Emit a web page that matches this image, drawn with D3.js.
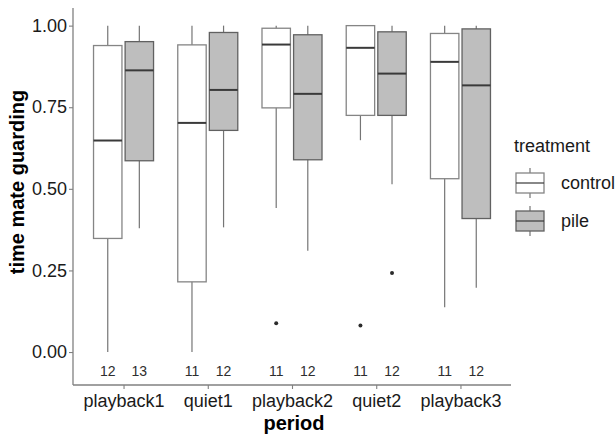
<!DOCTYPE html>
<html lang="en">

<head>
    <meta charset="UTF-8">
    <title>time mate guarding by period</title>
    <script src="https://cdn.jsdelivr.net/npm/d3@7"></script>
    <style>
        body {
            margin: 0;
            background: #fff;
        }

        svg text {
            font-family: "Liberation Sans", Arial, sans-serif;
        }
    </style>
</head>

<body>
    <svg id="main" width="615" height="435"></svg>

    <script>
        // values
        let periods = ["playback1", "quiet1", "playback2", "quiet2", "playback3"];
        let treatments = ["control", "pile"];

        let controlLow = [0.000, 0.000, 0.441, 0.649, 0.137];
        let controlQ1 = [0.348, 0.215, 0.748, 0.725, 0.531];
        let controlMed = [0.648, 0.702, 0.942, 0.932, 0.889];
        let controlQ3 = [0.939, 0.941, 0.992, 1.000, 0.976];
        let controlHigh = [1.000, 1.000, 1.000, 1.000, 1.000];
        let controlN = [12, 11, 11, 11, 11];

        let pileLow = [0.379, 0.382, 0.310, 0.514, 0.197];
        let pileQ1 = [0.586, 0.679, 0.589, 0.725, 0.409];
        let pileMed = [0.863, 0.803, 0.791, 0.853, 0.817];
        let pileQ3 = [0.951, 0.979, 0.972, 0.981, 0.990];
        let pileHigh = [1.000, 1.000, 1.000, 1.000, 1.000];
        let pileN = [13, 12, 12, 12, 12];

        let outlierPeriod = ["playback2", "quiet2", "quiet2"];
        let outlierTreatment = ["control", "control", "pile"];
        let outlierValue = [0.088, 0.081, 0.242];

        let yTicks = [0, 0.25, 0.5, 0.75, 1];

        let fills = { control: "#ffffff", pile: "#bebebe" };
        let strokes = { control: "#858585", pile: "#616161" };

        // build rows
        let boxes = [];
        periods.forEach(function (p, i) {
            boxes.push({ period: p, treatment: "control", low: controlLow[i], q1: controlQ1[i], med: controlMed[i], q3: controlQ3[i], high: controlHigh[i], n: controlN[i] });
            boxes.push({ period: p, treatment: "pile", low: pileLow[i], q1: pileQ1[i], med: pileMed[i], q3: pileQ3[i], high: pileHigh[i], n: pileN[i] });
        });
        let outliers = d3.map(outlierValue, function (v, i) {
            return { period: outlierPeriod[i], treatment: outlierTreatment[i], value: v };
        });

        let svg = d3.select("#main");
        let panelLeft = 73, panelRight = 511, panelTop = 8, panelBottom = 385;

        let x = d3.scalePoint().domain(periods).range([panelLeft, panelRight]).padding(0.6);
        let step = x.step();
        let dodge = d3.scaleBand().domain(treatments).range([-0.375 * step, 0.375 * step]);
        let boxW = dodge.bandwidth() * 0.9;
        let y = d3.scaleLinear().domain([-0.101, 1.054]).range([panelBottom, panelTop]);

        function cx(d) {
            return x(d.period) + dodge(d.treatment) + dodge.bandwidth() / 2;
        }

        // whiskers
        let g = svg.append("g");
        g.selectAll("line.whisker")
            .data(boxes)
            .join("line")
            .attr("class", "whisker")
            .attr("x1", cx).attr("x2", cx)
            .attr("y1", d => y(d.low)).attr("y2", d => y(d.high))
            .attr("stroke", "#757575")
            .attr("stroke-width", 1.2);

        // boxes
        g.selectAll("rect.box")
            .data(boxes)
            .join("rect")
            .attr("class", "box")
            .attr("x", d => cx(d) - boxW / 2)
            .attr("width", boxW)
            .attr("y", d => y(d.q3))
            .attr("height", d => y(d.q1) - y(d.q3))
            .attr("fill", d => fills[d.treatment])
            .attr("stroke", d => strokes[d.treatment])
            .attr("stroke-width", 1.3);

        // medians
        g.selectAll("line.median")
            .data(boxes)
            .join("line")
            .attr("class", "median")
            .attr("x1", d => cx(d) - boxW / 2).attr("x2", d => cx(d) + boxW / 2)
            .attr("y1", d => y(d.med)).attr("y2", d => y(d.med))
            .attr("stroke", "#3a3a3a")
            .attr("stroke-width", 2);

        // outliers
        g.selectAll("circle")
            .data(outliers)
            .join("circle")
            .attr("cx", cx)
            .attr("cy", d => y(d.value))
            .attr("r", 2)
            .attr("fill", "#2b2b2b");

        // counts under each box
        g.selectAll("text.count")
            .data(boxes)
            .join("text")
            .attr("class", "count")
            .attr("x", cx)
            .attr("y", y(-0.057))
            .attr("dy", "0.35em")
            .attr("text-anchor", "middle")
            .attr("font-size", 14)
            .attr("fill", "#2e2e2e")
            .text(d => d.n);

        // axes
        let yAxis = svg.append("g")
            .attr("transform", `translate(${panelLeft},0)`)
            .call(d3.axisLeft(y).tickValues(yTicks).tickFormat(d3.format(".2f")).tickSize(4).tickPadding(2));
        let xAxis = svg.append("g")
            .attr("transform", `translate(0,${panelBottom})`)
            .call(d3.axisBottom(x).tickSize(4).tickPadding(5));

        [yAxis, xAxis].forEach(function (a) {
            a.select(".domain").attr("stroke", "#808080").attr("stroke-width", 1.3);
            a.selectAll(".tick line").attr("stroke", "#808080").attr("stroke-width", 1.1);
            a.selectAll(".tick text").attr("font-size", 18).attr("fill", "#1a1a1a")
                .attr("font-family", "Liberation Sans, Arial, sans-serif");
        });
        // ggplot style axis lines, no outer ticks
        yAxis.select(".domain").attr("d", `M0,${panelTop}V${panelBottom}`);
        xAxis.select(".domain").attr("d", `M${panelLeft},0H${panelRight}`);

        // titles
        svg.append("text")
            .attr("x", (panelLeft + panelRight) / 2 + 2)
            .attr("y", 430)
            .attr("text-anchor", "middle")
            .attr("font-size", 20)
            .attr("font-weight", "bold")
            .text("period");

        svg.append("text")
            .attr("transform", "translate(24,182) rotate(-90)")
            .attr("text-anchor", "middle")
            .attr("font-size", 20)
            .attr("font-weight", "bold")
            .text("time mate guarding");

        // legend
        let legend = svg.append("g");
        legend.append("text")
            .attr("x", 514)
            .attr("y", 152)
            .attr("font-size", 18)
            .attr("fill", "#1a1a1a")
            .text("treatment");

        let keyY = d3.scalePoint().domain(treatments).range([183, 221]);
        let key = legend.selectAll("g.key")
            .data(treatments)
            .join("g")
            .attr("class", "key")
            .attr("transform", d => `translate(530,${keyY(d)})`);
        key.append("line")
            .attr("y1", -15).attr("y2", 15)
            .attr("stroke", "#757575").attr("stroke-width", 1.2);
        key.append("rect")
            .attr("x", -14).attr("y", -10)
            .attr("width", 28).attr("height", 20)
            .attr("fill", d => fills[d])
            .attr("stroke", d => strokes[d]).attr("stroke-width", 1.3);
        key.append("line")
            .attr("x1", -14).attr("x2", 14)
            .attr("stroke", "#3a3a3a").attr("stroke-width", 1.2);
        key.append("text")
            .attr("x", 31)
            .attr("dy", "0.35em")
            .attr("font-size", 18)
            .attr("fill", "#1a1a1a")
            .text(d => d);
    </script>

</body>

</html>
